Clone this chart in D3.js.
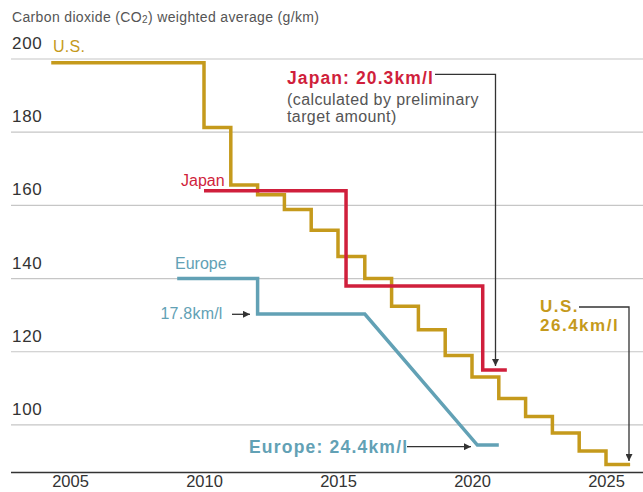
<!DOCTYPE html>
<html>
<head>
<meta charset="utf-8">
<title>CO2 weighted average</title>
<script src="https://d3js.org/d3.v7.min.js"></script>
<style>
  body { margin: 0; background: #fff; }
  svg { display: block; font-family: "Liberation Sans", Arial, sans-serif; }
</style>
</head>
<body>
<svg id="chart" width="643" height="492"></svg>
<script>
// data
var yTicks = [100, 120, 140, 160, 180, 200];
var xTicks = [2005, 2010, 2015, 2020, 2025];

// U.S. step series (value holds from year until next year)
var usYears = [2004.3, 2010, 2011, 2012, 2013, 2014, 2015, 2016, 2017, 2018, 2019, 2020, 2021, 2022, 2023, 2024, 2025, 2025.9];
var usValues = [199, 181.3, 165.6, 162.9, 158.9, 153.2, 146, 140, 132.4, 126, 119, 113.1, 107.2, 102.3, 97.8, 92.9, 89.2, 89.2];

// Japan step series
var japanYears = [2010, 2015.3, 2020.4, 2021.3];
var japanValues = [164, 138, 115, 115];

// Europe polyline
var europeYears = [2009, 2012, 2012, 2016, 2020.2, 2021];
var europeValues = [140, 140, 130.3, 130.3, 94.5, 94.5];

var colUS = "#c59a1c", colJapan = "#d01f3c", colEurope = "#62a1b5";

var svg = d3.select("#chart");
var x = d3.scaleLinear([2005, 2025], [70, 606]);
var y = d3.scaleLinear([87, 200], [472.5, 59]);

svg.append("defs").append("marker")
  .attr("id", "arr")
  .attr("viewBox", "0 0 10 10")
  .attr("refX", 10).attr("refY", 5)
  .attr("markerWidth", 7).attr("markerHeight", 7)
  .attr("markerUnits", "userSpaceOnUse")
  .attr("orient", "auto")
  .append("path").attr("d", "M0,0L10,5L0,10z").attr("fill", "#333");

// title
var title = svg.append("text").attr("x", 12).attr("y", 21.5)
  .attr("font-size", 14).attr("fill", "#555").attr("letter-spacing", 0.35);
title.append("tspan").text("Carbon dioxide (CO");
title.append("tspan").attr("font-size", 10).attr("dy", 1).text("2");
title.append("tspan").attr("dy", -1).text(") weighted average (g/km)");

// gridlines + y labels
var grid = svg.append("g");
grid.selectAll("line").data(yTicks).join("line")
  .attr("x1", 11).attr("x2", 643)
  .attr("y1", d => y(d)).attr("y2", d => y(d))
  .attr("stroke", "#c6c6c6").attr("stroke-width", 1.2);
grid.selectAll("text").data(yTicks).join("text")
  .attr("x", 12).attr("y", d => y(d) - 10)
  .attr("font-size", 17).attr("letter-spacing", 0.7).attr("fill", "#333")
  .text(d => d);

// x axis
var xAxis = svg.append("g").attr("transform", "translate(0," + y(87) + ")")
  .call(d3.axisBottom(x).tickValues(xTicks).tickFormat(d3.format("d")).tickSize(0).tickPadding(3));
xAxis.select(".domain").remove();
xAxis.selectAll("text").attr("font-size", 16.5).attr("fill", "#333")
  .attr("font-family", "Liberation Sans, Arial, sans-serif");
svg.append("line").attr("x1", 11).attr("x2", 643)
  .attr("y1", y(87)).attr("y2", y(87))
  .attr("stroke", "#333").attr("stroke-width", 1.3);

// series
var stepLine = d3.line().x(d => x(d[0])).y(d => y(d[1])).curve(d3.curveStepAfter);
var straight = d3.line().x(d => x(d[0])).y(d => y(d[1]));

svg.append("path").datum(d3.zip(usYears, usValues))
  .attr("d", stepLine).attr("fill", "none")
  .attr("stroke", colUS).attr("stroke-width", 3.5);
svg.append("path").datum(d3.zip(europeYears, europeValues))
  .attr("d", straight).attr("fill", "none")
  .attr("stroke", colEurope).attr("stroke-width", 3.5);
svg.append("path").datum(d3.zip(japanYears, japanValues))
  .attr("d", stepLine).attr("fill", "none")
  .attr("stroke", colJapan).attr("stroke-width", 3.5);

// series labels
svg.append("text").attr("x", 53).attr("y", 51.5).attr("font-size", 16).attr("letter-spacing", 0.3).attr("fill", colUS).text("U.S.");
svg.append("text").attr("x", 181).attr("y", 186).attr("font-size", 16).attr("fill", colJapan).text("Japan");
svg.append("text").attr("x", 175).attr("y", 268.5).attr("font-size", 16).attr("fill", colEurope).text("Europe");

// annotations
svg.append("text").attr("x", 287).attr("y", 84.3).attr("font-size", 17.5).attr("font-weight", "bold")
  .attr("letter-spacing", 1.1).attr("fill", colJapan).text("Japan: 20.3km/l");
var note = svg.append("text").attr("x", 287).attr("font-size", 16).attr("letter-spacing", 0.4).attr("fill", "#555");
note.append("tspan").attr("x", 287).attr("y", 105).text("(calculated by preliminary");
note.append("tspan").attr("x", 287).attr("y", 121.7).text("target amount)");
svg.append("path").attr("d", "M435,74.3H495.5V366")
  .attr("fill", "none").attr("stroke", "#333").attr("stroke-width", 1.3).attr("marker-end", "url(#arr)");

svg.append("text").attr("x", 160.5).attr("y", 319.3).attr("font-size", 16).attr("letter-spacing", 0.2).attr("fill", colEurope).text("17.8km/l");
svg.append("path").attr("d", "M232,314.3H250")
  .attr("fill", "none").attr("stroke", "#333").attr("stroke-width", 1.3).attr("marker-end", "url(#arr)");

svg.append("text").attr("x", 249).attr("y", 452.7).attr("font-size", 17.5).attr("font-weight", "bold")
  .attr("letter-spacing", 1.2).attr("fill", colEurope).text("Europe: 24.4km/l");
svg.append("path").attr("d", "M407,446.7H471")
  .attr("fill", "none").attr("stroke", "#333").attr("stroke-width", 1.3).attr("marker-end", "url(#arr)");

var usNote = svg.append("text").attr("font-size", 17).attr("font-weight", "bold")
  .attr("letter-spacing", 1.5).attr("fill", colUS);
usNote.append("tspan").attr("x", 540).attr("y", 311.5).text("U.S.");
usNote.append("tspan").attr("x", 540).attr("y", 331).text("26.4km/l");
svg.append("path").attr("d", "M579,307H629V461")
  .attr("fill", "none").attr("stroke", "#333").attr("stroke-width", 1.3).attr("marker-end", "url(#arr)");
</script>
</body>
</html>
